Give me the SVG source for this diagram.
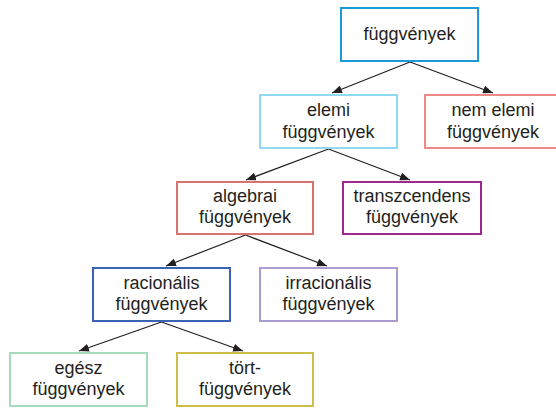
<svg xmlns="http://www.w3.org/2000/svg" width="556" height="408" viewBox="0 0 556 408">
<defs>
<style>
.box{fill:#fff;stroke-width:2}
.t{font-family:"Liberation Sans",Arial,sans-serif;font-size:18px;fill:#231f20;text-anchor:middle}
.c{stroke:#231f20;stroke-width:1.2;fill:none;marker-end:url(#ah)}
</style>
<marker id="ah" viewBox="0 0 10 8" refX="10" refY="4" markerWidth="10" markerHeight="8" markerUnits="userSpaceOnUse" orient="auto">
<path d="M0,0 L10,4 L0,8 Z" fill="#231f20"/>
</marker>
</defs>
<rect width="556" height="408" fill="#fff"/>
<g id="connectors">
<line class="c" x1="410" y1="62" x2="332" y2="93"/>
<line class="c" x1="410" y1="62" x2="493" y2="93"/>
<line class="c" x1="328.5" y1="149" x2="246" y2="180"/>
<line class="c" x1="328.5" y1="149" x2="410" y2="180"/>
<line class="c" x1="245.5" y1="235" x2="166" y2="266"/>
<line class="c" x1="245.5" y1="235" x2="327" y2="266"/>
<line class="c" x1="161.5" y1="322" x2="79" y2="351"/>
<line class="c" x1="161.5" y1="322" x2="243" y2="351"/>
</g>
<g id="fuggvenyek">
<rect class="box" x="341" y="8" width="137" height="53" stroke="#1b9ad6"/>
<text class="t" x="409.5" y="40">függvények</text>
</g>
<g id="elemi">
<rect class="box" x="260" y="95" width="137" height="53" stroke="#8fd9f2"/>
<text class="t" x="328.5" y="116">elemi</text>
<text class="t" x="328.5" y="138">függvények</text>
</g>
<g id="nem-elemi">
<rect class="box" x="425" y="95" width="137" height="53" stroke="#f08a88"/>
<text class="t" x="493" y="116">nem elemi</text>
<text class="t" x="493" y="138">függvények</text>
</g>
<g id="algebrai">
<rect class="box" x="177" y="182" width="136" height="52" stroke="#d6736e"/>
<text class="t" x="245" y="202">algebrai</text>
<text class="t" x="245" y="223">függvények</text>
</g>
<g id="transzcendens">
<rect class="box" x="343" y="182" width="138" height="52" stroke="#a3268f"/>
<text class="t" x="412" y="202">transzcendens</text>
<text class="t" x="412" y="223">függvények</text>
</g>
<g id="racionalis">
<rect class="box" x="93" y="268" width="137" height="53" stroke="#3a63b5"/>
<text class="t" x="161.5" y="289">racionális</text>
<text class="t" x="161.5" y="310">függvények</text>
</g>
<g id="irracionalis">
<rect class="box" x="260" y="268" width="137" height="53" stroke="#a99cd3"/>
<text class="t" x="328.5" y="289">irracionális</text>
<text class="t" x="328.5" y="310">függvények</text>
</g>
<g id="egesz">
<rect class="box" x="10" y="353" width="137" height="53" stroke="#a6dcb9"/>
<text class="t" x="78.5" y="374">egész</text>
<text class="t" x="78.5" y="395">függvények</text>
</g>
<g id="tort">
<rect class="box" x="177" y="353" width="136" height="53" stroke="#cdbd4a"/>
<text class="t" x="245" y="374">tört-</text>
<text class="t" x="245" y="395">függvények</text>
</g>
</svg>
